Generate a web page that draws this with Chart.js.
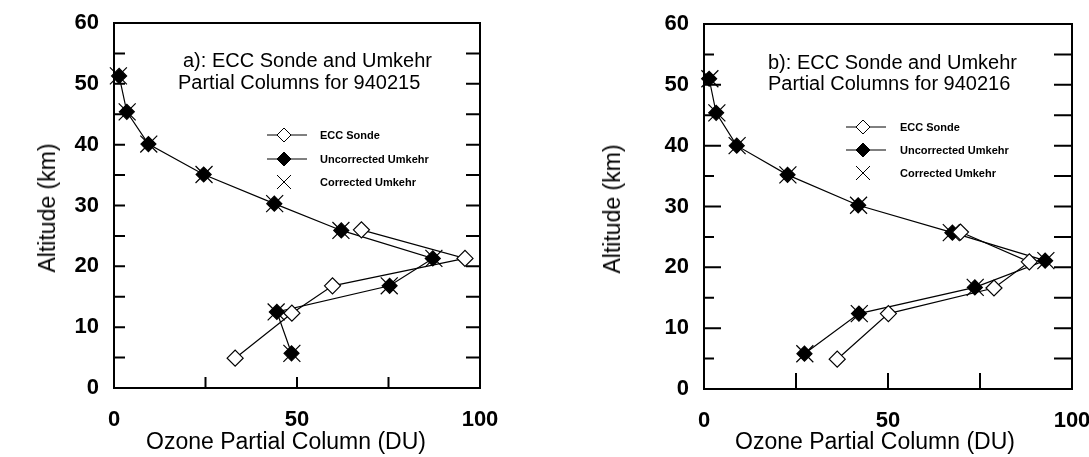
<!DOCTYPE html>
<html>
<head>
<meta charset="utf-8">
<script src="https://cdn.jsdelivr.net/npm/chart.js@4.4.1/dist/chart.umd.min.js"></script>
<style>
  html, body { margin: 0; padding: 0; background: #fff; }
  body { width: 1089px; height: 457px; position: relative; overflow: hidden; font-family: 'Liberation Sans', Arial, sans-serif; color: #000; }
  canvas { position: absolute; top: 0; }
  .txt { position: absolute; white-space: nowrap; }
  .ptitle { font-size: 20px; line-height: 22px; }
  .axtitle { font-size: 23px; line-height: 26px; }
  .ytitle { transform: translate(-50%, -50%) rotate(-90deg); }
  .xtitle { transform: translate(-50%, -50%); }
  .leg { position: absolute; font-size: 11px; font-weight: bold; }
  .leg .row { position: absolute; left: 0; height: 16px; }
  .leg svg { position: absolute; left: 0; top: 0; }
  .leg span { position: absolute; top: 0; line-height: 16px; white-space: nowrap; }
</style>
</head>
<body>
<canvas id="chartA" width="545" height="457" style="left:0;width:545px;height:457px"></canvas>
<canvas id="chartB" width="544" height="457" style="left:545px;width:544px;height:457px"></canvas>

<div class="txt ptitle" style="left:183px;top:49px">a): ECC Sonde and Umkehr</div>
<div class="txt ptitle" style="left:178px;top:71px">Partial Columns for 940215</div>
<div class="txt ptitle" style="left:768px;top:51px">b): ECC Sonde and Umkehr</div>
<div class="txt ptitle" style="left:768px;top:72px">Partial Columns for 940216</div>

<div class="txt axtitle ytitle" style="left:47px;top:208px">Altitude (km)</div>
<div class="txt axtitle ytitle" style="left:612px;top:209px">Altitude (km)</div>
<div class="txt axtitle xtitle" style="left:286px;top:441px">Ozone Partial Column (DU)</div>
<div class="txt axtitle xtitle" style="left:875px;top:441px">Ozone Partial Column (DU)</div>

<div class="leg" id="legA" style="left:265px;top:127px"></div>
<div class="leg" id="legB" style="left:844px;top:119px"></div>

<script>
// ---- data ----
const xTickLabels = [0, 50, 100];
const xTickMarks = [25, 50, 75];
const yTickMarks = [5, 10, 15, 20, 25, 30, 35, 40, 45, 50, 55];
const seriesNames = ['ECC Sonde', 'Uncorrected Umkehr', 'Corrected Umkehr'];

// a) 940215
const eccAltA = [26.0, 21.3, 16.8, 12.3, 4.9];
const eccDuA = [67.6, 95.9, 59.7, 48.6, 33.1];
const umkAltA = [51.3, 45.4, 40.1, 35.1, 30.3, 25.9, 21.3, 16.8, 12.5, 5.7];
const uncorrDuA = [1.4, 3.5, 9.4, 24.5, 43.8, 62.1, 87.1, 75.3, 44.5, 48.5];
const corrDuA = [1.2, 3.6, 9.5, 24.6, 43.9, 62.0, 87.4, 75.2, 44.3, 48.6];

// b) 940216
const eccAltB = [25.8, 20.9, 16.6, 12.4, 4.9];
const eccDuB = [69.7, 88.4, 78.8, 50.1, 36.2];
const umkAltB = [51.0, 45.4, 40.0, 35.2, 30.2, 25.7, 21.1, 16.7, 12.4, 5.8];
const uncorrDuB = [1.4, 3.3, 8.9, 22.7, 41.9, 67.5, 92.7, 73.6, 42.1, 27.3];
const corrDuB = [1.6, 3.5, 9.0, 22.8, 42.0, 67.2, 92.9, 73.7, 42.2, 27.4];

Chart.defaults.font.family = "'Liberation Sans', Arial, sans-serif";
Chart.defaults.color = '#000';

const pts = (xs, ys) => xs.map((x, i) => ({ x: x, y: ys[i] }));

// box + inward ticks, like the original plotting package
const frameTicks = {
  id: 'frameTicks',
  afterDatasetsDraw(chart, args, opts) {
    const { ctx, chartArea: a, scales } = chart;
    ctx.save();
    ctx.strokeStyle = '#000';
    ctx.lineWidth = 2;
    ctx.strokeRect(a.left, a.top, a.right - a.left, a.bottom - a.top);
    ctx.beginPath();
    yTickMarks.forEach(v => {
      const y = scales.y.getPixelForValue(v);
      const l = v % 10 === 0 ? opts.leftMajor : opts.leftMinor;
      ctx.moveTo(a.left, y); ctx.lineTo(a.left + l, y);
      ctx.moveTo(a.right, y); ctx.lineTo(a.right - opts.right, y);
    });
    xTickMarks.forEach(v => {
      const x = scales.x.getPixelForValue(v);
      ctx.moveTo(x, a.bottom); ctx.lineTo(x, a.bottom - opts.bottom);
    });
    ctx.stroke();
    ctx.restore();
  }
};

function makeChart(id, ecc, uncorr, corr, box, ticks) {
  const ctx = document.getElementById(id).getContext('2d');
  return new Chart(ctx, {
    type: 'scatter',
    data: {
      datasets: [
        {
          label: seriesNames[2], data: corr, showLine: false,
          pointStyle: 'crossRot', pointRadius: 12, pointHoverRadius: 12,
          borderColor: '#000', borderWidth: 1.2, clip: false, order: 3
        },
        {
          label: seriesNames[1], data: uncorr, showLine: true,
          pointStyle: 'rectRot', pointRadius: 7.5, pointHoverRadius: 7.5,
          backgroundColor: '#000', borderColor: '#000', borderWidth: 1.2,
          pointBackgroundColor: '#000', clip: false, order: 2
        },
        {
          label: seriesNames[0], data: ecc, showLine: true,
          pointStyle: 'rectRot', pointRadius: 8, pointHoverRadius: 8,
          borderColor: '#000', borderWidth: 1.2,
          pointBackgroundColor: '#fff', clip: false, order: 0
        }
      ]
    },
    options: {
      responsive: false,
      animation: false,
      events: [],
      layout: { padding: { left: 0, right: box.right, top: box.top, bottom: 0 } },
      plugins: {
        legend: { display: false },
        tooltip: { enabled: false },
        frameTicks: ticks
      },
      scales: {
        x: {
          type: 'linear', min: 0, max: 100,
          grid: { display: false, drawTicks: false },
          border: { display: false },
          afterBuildTicks: s => { s.ticks = xTickLabels.map(v => ({ value: v })); },
          ticks: { font: { size: 22, weight: 'bold' }, padding: 19, maxRotation: 0 },
          afterFit: s => { s.height = box.xHeight; s.paddingLeft = 0; s.paddingRight = 0; }
        },
        y: {
          type: 'linear', min: 0, max: 60,
          grid: { display: false, drawTicks: false },
          border: { display: false },
          ticks: { stepSize: 10, font: { size: 22, weight: 'bold' }, padding: 15 },
          afterFit: s => { s.width = box.yWidth; s.paddingTop = 0; s.paddingBottom = 0; }
        }
      }
    },
    plugins: [frameTicks]
  });
}

makeChart('chartA', pts(eccDuA, eccAltA), pts(uncorrDuA, umkAltA), pts(corrDuA, umkAltA),
  { yWidth: 114, xHeight: 69, right: 65, top: 23 },
  { leftMajor: 11, leftMinor: 11, right: 14, bottom: 11 });

makeChart('chartB', pts(eccDuB, eccAltB), pts(uncorrDuB, umkAltB), pts(corrDuB, umkAltB),
  { yWidth: 159, xHeight: 68, right: 17, top: 24 },
  { leftMajor: 17, leftMinor: 10, right: 18, bottom: 16 });

// legend inside each panel
function buildLegend(id, rowGap, textLeft) {
  const marks = [
    '<line x1="2" y1="8" x2="42" y2="8" stroke="#000" stroke-width="1"/>' +
      '<polygon points="19,1 26,8 19,15 12,8" fill="#fff" stroke="#000" stroke-width="1"/>',
    '<line x1="2" y1="8" x2="42" y2="8" stroke="#000" stroke-width="1"/>' +
      '<polygon points="19,1 26,8 19,15 12,8" fill="#000" stroke="#000" stroke-width="1"/>',
    '<line x1="12" y1="1" x2="26" y2="15" stroke="#000" stroke-width="1"/>' +
      '<line x1="26" y1="1" x2="12" y2="15" stroke="#000" stroke-width="1"/>'
  ];
  document.getElementById(id).innerHTML = seriesNames.map((name, i) => `
    <div class="row" style="top:${i * rowGap}px">
      <svg width="44" height="16">${marks[i]}</svg>
      <span style="left:${textLeft}px">${name}</span>
    </div>`).join('');
}

buildLegend('legA', 23.5, 55);
buildLegend('legB', 23, 56);
</script>
</body>
</html>
